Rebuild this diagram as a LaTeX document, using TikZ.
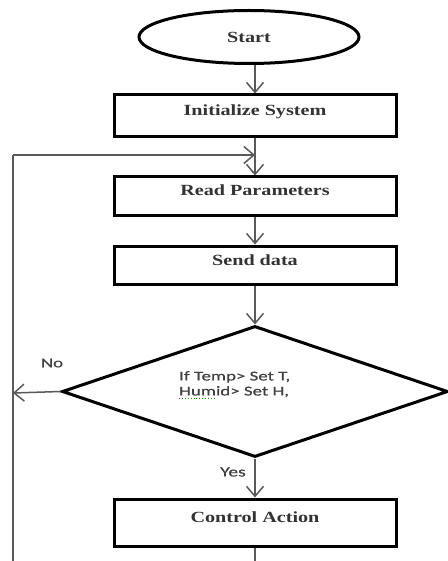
\documentclass[tikz,border=0pt]{standalone}
\usepackage{fontspec}
\setmainfont{Liberation Serif}
\newfontfamily\boxfont[FakeStretch=1.3]{Liberation Serif Bold}
\newfontfamily\calfont[FakeStretch=1.4,FakeBold=0.6]{Carlito}
\usetikzlibrary{shapes.geometric,arrows.meta}
\begin{document}
\begin{tikzpicture}[x=1pt,y=-1pt,
  stepbox/.style={draw,line width=3pt,rectangle,minimum width=282pt,inner sep=0pt,
    font=\boxfont\fontsize{15.5}{17}\selectfont,text height=8pt,text depth=8pt,text=black!80},
  termbox/.style={draw,line width=3pt,ellipse,minimum width=220pt,minimum height=53pt,inner sep=0pt,
    font=\boxfont\fontsize{15.5}{17}\selectfont,text=black!80},
  decbox/.style={draw,line width=3pt,diamond,minimum width=386pt,minimum height=131pt,inner sep=0pt},
  conn/.style={draw=black!65,line width=1.5pt},
  arr/.style={conn,-{Straight Barb[length=10pt,width=17pt,line width=1.5pt]}},
  lbl/.style={font=\calfont\fontsize{13.5}{15}\selectfont,text=black!75,inner sep=0pt}]
\useasboundingbox (0,0) rectangle (447,561);
\node[termbox] (start) at (249,37) {Start};
\node[stepbox,minimum height=42pt] (init) at (255,116) {Initialize System};
\node[stepbox,minimum height=38pt] (read) at (255,196) {Read Parameters};
\node[stepbox,minimum height=38pt] (send) at (255,265) {Send data};
\node[decbox] (dec) at (255,391.5) {};
\node[lbl,align=left,anchor=north west] (dtext) at (179,371) {If Temp> Set T,\\Humid> Set H,};
\node[stepbox,minimum height=47pt] (ctrl) at (255,522.5) {Control Action};
\node[lbl] (no) at (52,363) {No};
\node[lbl,font=\calfont\fontsize{14}{15}\selectfont] (yes) at (233,472) {Yes};
\coordinate (loopTop) at (13,155);
\coordinate (loopBot) at (13,561);
\coordinate (noEnd) at (13,393);
\draw[arr] (start.south -| init.north) -- (init.north);
\draw[arr] (init.south) -- (read.north);
\draw[arr] (read.south) -- (send.north);
\draw[arr] (send.south) -- (dec.north);
\draw[arr] (dec.south) -- (ctrl.north);
\draw[conn] (ctrl.south) -- (ctrl.south |- loopBot);
\draw[arr] (dec.west) -- (noEnd);
\draw[conn] (loopBot) -- (loopTop);
\draw[arr] (loopTop) -- (loopTop -| init.south);
\draw[green!60!black,line width=0.9pt,dotted] ([yshift=-1pt]dtext.south west) -- ++(36,0);
\end{tikzpicture}
\end{document}
